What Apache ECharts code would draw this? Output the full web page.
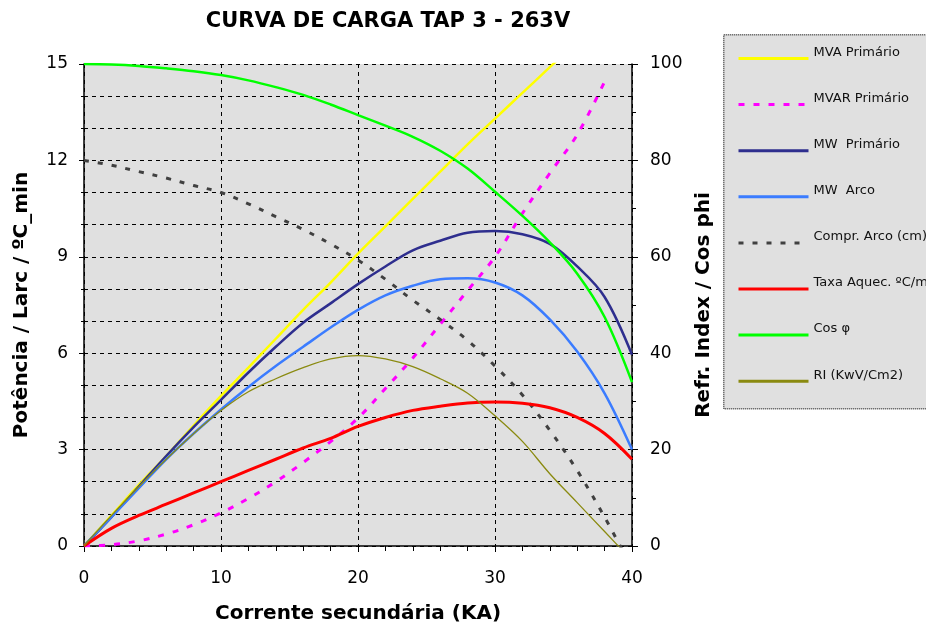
<!DOCTYPE html>
<html>
<head>
<meta charset="utf-8">
<script src="https://cdn.jsdelivr.net/npm/echarts@6/dist/echarts.min.js"></script>
<style>html,body{margin:0;padding:0;background:#fff}#c{width:926px;height:633px}</style>
</head>
<body>
<div id="c"></div>
<script>
// Corrente secundária (KA)
const X = [0,2,4,6,8,10,12,14,16,18,20,22,24,26,28,30,32,34,36,38,40];
// Left axis series
const mvaPrimario  = [0,0.95,1.9,2.8,3.75,4.67,5.55,6.45,7.35,8.2,9.1,9.95,10.8,11.65,12.5,13.3,14.1,14.9,15.7,null,null];
const mvarPrimario = [0,0.04,0.16,0.37,0.66,1.03,1.48,2.0,2.6,3.25,3.98,4.9,5.85,6.9,7.95,9.0,10.35,11.6,12.8,14.45,null];
const mwPrimario   = [0,0.9,1.85,2.8,3.7,4.55,5.4,6.2,6.95,7.55,8.15,8.7,9.2,9.5,9.75,9.8,9.7,9.4,8.7,7.75,5.95];
const mwArco       = [0,0.9,1.8,2.7,3.5,4.25,4.95,5.6,6.2,6.8,7.35,7.8,8.1,8.3,8.33,8.2,7.8,7.05,6.05,4.75,3.0];
const comprArco    = [12,11.85,11.65,11.45,11.22,11.0,10.65,10.25,9.85,9.4,8.9,8.3,7.65,7.05,6.4,5.6,4.7,3.6,2.35,0.9,-0.7];
const taxaAquec    = [0,0.55,0.95,1.3,1.65,2.0,2.35,2.7,3.05,3.35,3.72,4.0,4.22,4.35,4.45,4.48,4.44,4.3,4.0,3.5,2.7];
// Right axis series
const cosPhi       = [100,99.9,99.6,99.1,98.5,97.7,96.6,95.2,93.6,91.6,89.4,87.2,84.9,82,78.3,73.5,68.5,63,56.5,47.5,34];
const riKwV        = [0,6.3,12.3,18,23.3,28.1,32,34.7,37,38.8,39.5,38.8,37.2,34.7,31.7,27,21.7,15,9,3,-3];

const legendNames = ['MVA Primário','MVAR Primário','MW  Primário','MW  Arco','Compr. Arco (cm)','Taxa Aquec. ºC/min','Cos φ','RI (KwV/Cm2)'];

const leftTicks = {min:0, max:15, interval:3};
const rightTicks = {min:0, max:100, interval:20};
const xTicks = {min:0, max:40, interval:10};

const FONT = 'DejaVu Sans';
const pairs = arr => X.map((x,i)=>[x, arr[i]]);

function ser(name, arr, color, width, yIdx, type){
  return {
    name, type:'line', yAxisIndex:yIdx, data:pairs(arr), smooth:0.35,
    symbol:'none', showSymbol:false, clip:true,
    lineStyle:{color, width, type:type||'solid', cap:'butt'},
    itemStyle:{color}
  };
}

const chart = echarts.init(document.getElementById('c'), null, {renderer:'canvas'});
chart.setOption({
  animation:false,
  backgroundColor:'#ffffff',
  title:{
    text:'CURVA DE CARGA TAP 3 - 263V', left:388, top:11, textAlign:'center', padding:0,
    textStyle:{fontFamily:FONT, fontSize:21, fontWeight:'bold', color:'#000'}
  },
  graphic:[{
    type:'rect', left:723, top:34, z:0,
    shape:{width:220, height:374},
    style:{fill:'#e0e0e0', stroke:'#444', lineWidth:1.5, lineDash:[1,1]}
  }],
  legend:{
    orient:'vertical', left:737, top:46, padding:0, itemWidth:70, itemHeight:14, itemGap:28,
    itemStyle:{opacity:0},
    lineStyle:{width:3},
    formatter: n => '{a|' + n + '}',
    textStyle:{fontFamily:FONT, fontSize:13, color:'#111',
      rich:{a:{fontFamily:FONT, fontSize:13, color:'#111', padding:[0,0,12,0]}}},
    data:legendNames
  },
  grid:{left:84, right:294, top:64, bottom:87, show:true, backgroundColor:'#e0e0e0', borderWidth:0},
  xAxis:{
    type:'value', min:xTicks.min, max:xTicks.max, interval:xTicks.interval,
    name:'Corrente secundária (KA)', nameLocation:'middle', nameGap:58,
    nameTextStyle:{fontFamily:FONT, fontSize:20, fontWeight:'bold', color:'#000'},
    axisLine:{show:true, onZero:false, lineStyle:{color:'#000', width:1.5}},
    axisTick:{show:true, length:6, lineStyle:{color:'#000'}},
    minorTick:{show:true, splitNumber:5, length:5, lineStyle:{color:'#000'}},
    axisLabel:{fontFamily:FONT, fontSize:17, color:'#000', margin:24},
    splitLine:{show:true, lineStyle:{color:'#000', type:[4,4], width:1}}
  },
  yAxis:[{
    type:'value', position:'left', min:leftTicks.min, max:leftTicks.max, interval:leftTicks.interval,
    name:'Potência / Larc / ºC_min', nameLocation:'middle', nameGap:52, nameRotate:90,
    nameTextStyle:{fontFamily:FONT, fontSize:20, fontWeight:'bold', color:'#000'},
    axisLine:{show:true, lineStyle:{color:'#000', width:1.5}},
    axisTick:{show:true, length:5, lineStyle:{color:'#000'}},
    minorTick:{show:true, splitNumber:3, length:3, lineStyle:{color:'#000'}},
    axisLabel:{fontFamily:FONT, fontSize:17, color:'#000', margin:16},
    splitLine:{show:true, lineStyle:{color:'#000', type:[4,4], width:1}},
    minorSplitLine:{show:true, lineStyle:{color:'#000', type:[4,4], width:1}}
  },{
    type:'value', position:'right', min:rightTicks.min, max:rightTicks.max, interval:rightTicks.interval,
    name:'Refr. Index / Cos phi', nameLocation:'middle', nameGap:50, nameRotate:90,
    nameTextStyle:{fontFamily:FONT, fontSize:20, fontWeight:'bold', color:'#000'},
    axisLine:{show:true, lineStyle:{color:'#000', width:1.5}},
    axisTick:{show:true, length:6, lineStyle:{color:'#000'}},
    minorTick:{show:true, splitNumber:2, length:4, lineStyle:{color:'#000'}},
    axisLabel:{fontFamily:FONT, fontSize:17, color:'#000', margin:18},
    splitLine:{show:false}
  }],
  series:[
    ser(legendNames[0], mvaPrimario, '#ffff00', 2.5, 0),
    ser(legendNames[1], mvarPrimario, '#ff00ff', 3, 0, [6,9]),
    ser(legendNames[2], mwPrimario, '#2e2e8e', 2.5, 0),
    ser(legendNames[3], mwArco, '#3b7cff', 2.5, 0),
    ser(legendNames[4], comprArco, '#404040', 3, 0, [5,9]),
    ser(legendNames[5], taxaAquec, '#ff0000', 3, 0),
    ser(legendNames[6], cosPhi, '#00ff00', 2.5, 1),
    ser(legendNames[7], riKwV, '#8a8a10', 1.3, 1)
  ]
});
</script>
</body>
</html>
